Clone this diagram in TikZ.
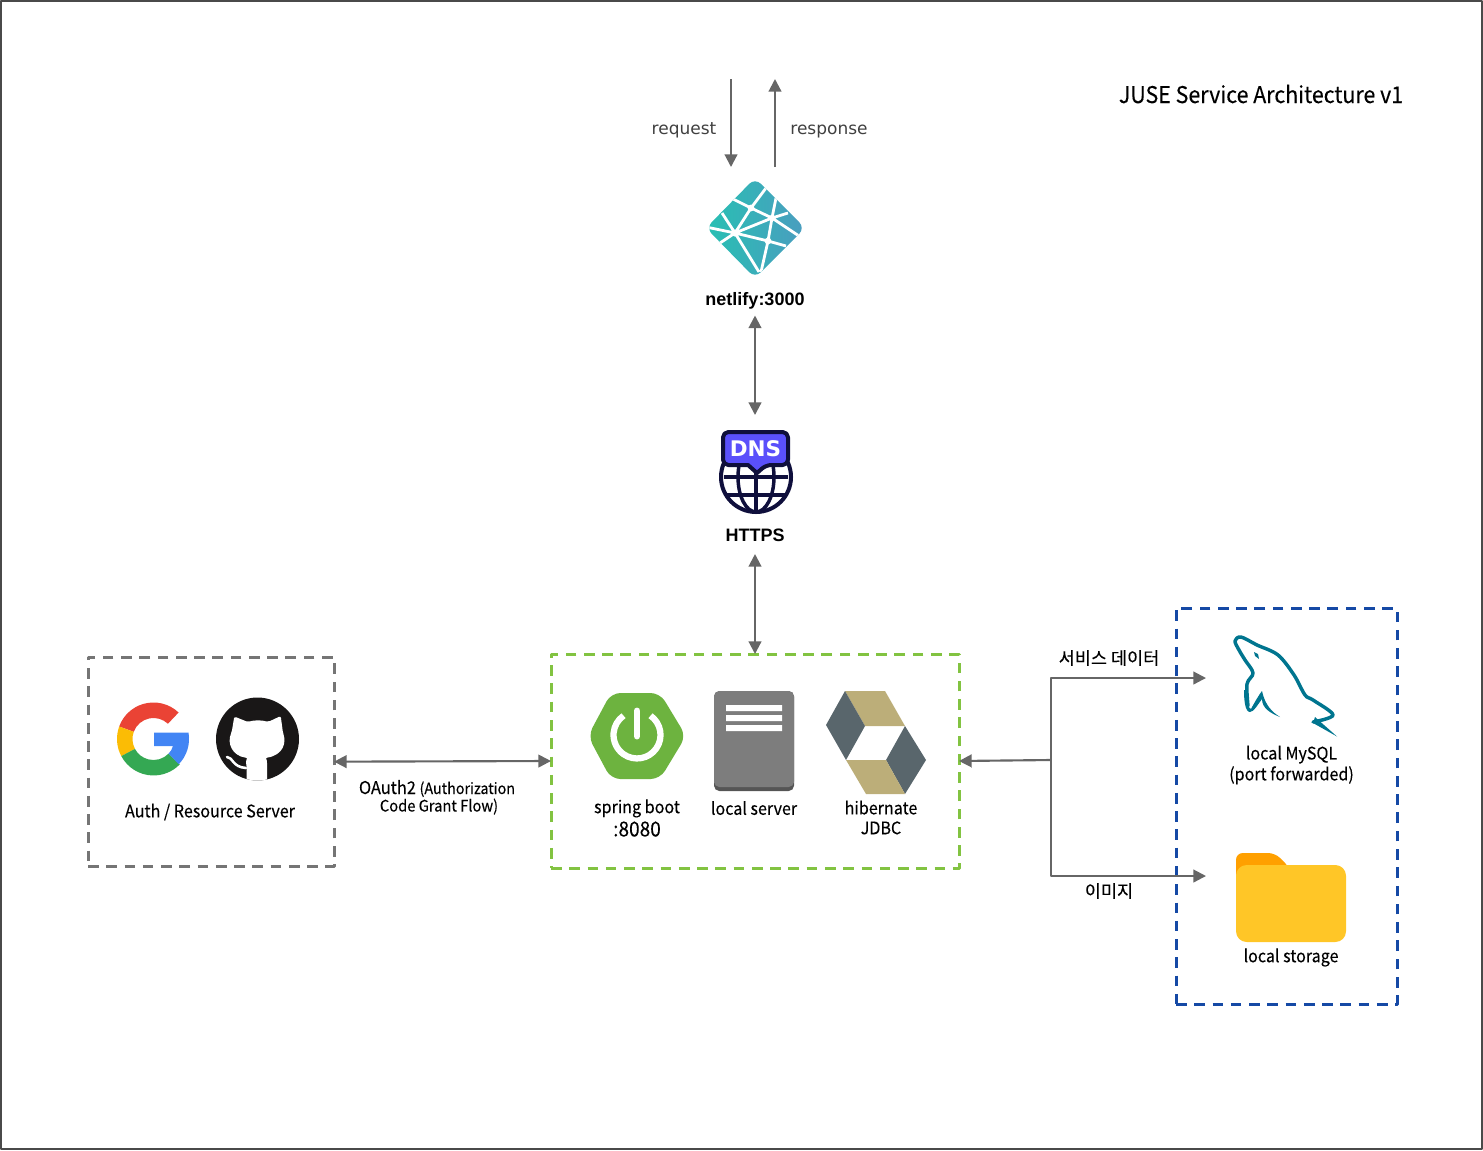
\documentclass[tikz,border=0pt]{standalone}
\usepackage{fontspec}
\setmainfont[FakeStretch=0.93,FakeBold=0.15]{Noto Sans CJK KR}
\newfontfamily\kr[FakeStretch=1.0,FakeBold=0.2]{Noto Sans CJK KR}
\newfontfamily\dv{DejaVu Sans}
\newfontfamily\lib{Liberation Sans}
\usetikzlibrary{arrows.meta}
\newcommand{\fpx}[1]{\pgfmathsetlengthmacro\tmpfs{#1*0.75}\fontsize{\tmpfs}{\tmpfs}\selectfont}
\definecolor{linegray}{HTML}{666666}
\definecolor{framegray}{HTML}{4A4A4A}
\definecolor{boxgray}{HTML}{757575}
\definecolor{boxgreen}{HTML}{82C341}
\definecolor{boxblue}{HTML}{1549A5}
\definecolor{dnsdark}{HTML}{0F0F3C}
\definecolor{dnsblue}{HTML}{5A50FB}
\definecolor{hibtan}{HTML}{BCAE79}
\definecolor{hibgray}{HTML}{59666C}
\definecolor{springgreen}{HTML}{6DB33F}
\definecolor{mysqlteal}{HTML}{00758F}
\definecolor{netleft}{HTML}{26C2B2}
\definecolor{netright}{HTML}{4C9BC0}
\definecolor{gred}{HTML}{EA4335}
\definecolor{gyellow}{HTML}{FBBC05}
\definecolor{ggreen}{HTML}{34A853}
\definecolor{gblue}{HTML}{4285F4}
\definecolor{ghblack}{HTML}{191717}
\definecolor{servergray}{HTML}{7D7D7D}
\definecolor{serverdark}{HTML}{555555}
\definecolor{folderback}{HTML}{FFA000}
\definecolor{folderfront}{HTML}{FFC627}
\tikzset{
  conn/.style={draw=linegray,line width=1.6pt,-{Triangle[length=9.5pt,width=9.5pt]}},
  bi/.style={draw=linegray,line width=1.6pt,{Triangle[length=9.5pt,width=9.5pt]}-{Triangle[length=9.5pt,width=9.5pt]}},
  dbox/.style={line width=2.25pt,dash pattern=on 8pt off 5.7pt,inner sep=0pt,outer sep=0pt,anchor=north west},
  ghost/.style={inner sep=0pt,outer sep=0pt,draw=none},
  lbl/.style={align=center,inner sep=0pt,text=black,font=\fpx{17.3}},
}
\begin{document}
\begin{tikzpicture}[x=0.75pt,y=-0.75pt,line join=round]
\useasboundingbox (0,0) rectangle (1483,1150);
\draw[framegray,line width=1.5pt] (1,1) rectangle (1482,1149);

% dashed boxes
\node[dbox,draw=boxgray,minimum width=184.5pt,minimum height=157pt] (authbox) at (88,657) {};
\node[dbox,draw=boxgreen,minimum width=306pt,minimum height=160.5pt] (springbox) at (551,654) {};
\node[dbox,draw=boxblue,minimum width=165.75pt,minimum height=297pt] (databox) at (1176,608) {};

% title
\node[lbl,font=\fpx{23}] (title) at (1261,94) {JUSE Service Architecture v1};

% netlify icon
\begin{scope}
\clip[rounded corners=6pt] (755,178) -- (805,228) -- (755,278) -- (706,228) -- cycle;
\shade[left color=netleft,right color=netright] (700,175) rectangle (810,280);
\draw[white,line width=2.1pt]
  (735,233) -- (751,208) -- (772,218) -- (768,241) -- (735,233)
  (735,233) -- (772,218)
  (735,233) -- (706,227) (735,233) -- (722,213) (735,233) -- (720,243)
  (735,233) -- (759,272)
  (751,208) -- (733,199) (751,208) -- (766,188)
  (772,218) -- (776,198) (772,218) -- (788,213) (772,218) -- (805,240)
  (768,241) -- (786,246) (768,241) -- (761,272);
\fill[white] (735,233) circle (3.6) (751,208) circle (3.4) (772,218) circle (3.2) (768,241) circle (3.4);
\end{scope}
\node[ghost,minimum width=100pt,minimum height=101.25pt] (netlify) at (755,248) {};
\node[lbl,font=\lib\bfseries\fpx{18},anchor=base] (netlifylabel) at (755,305) {netlify:3000};

% request / response
\coordinate (reqtop) at (731,79);
\coordinate (reqbot) at (731,167);
\coordinate (resbot) at (775,167);
\coordinate (restop) at (775,79);
\draw[conn] (reqtop) -- (reqbot);
\draw[conn] (resbot) -- (restop);
\node[lbl,font=\dv\fpx{17},text=black!75,anchor=base] (reqlabel) at (684,134) {request};
\node[lbl,font=\dv\fpx{17},text=black!75,anchor=base] (reslabel) at (829,134) {response};

% DNS icon
\draw[dnsdark,line width=3pt] (756,477) circle (35);
\draw[dnsdark,line width=2.6pt] (756,442) -- (756,512);
\draw[dnsdark,line width=2.6pt] (756,477) ellipse (18 and 35);
\draw[dnsdark,line width=2.6pt] (724,477) -- (788,477) (727,495) -- (785,495);
\path[fill=dnsblue,draw=dnsdark,line width=3pt,rounded corners=4pt]
  (723,432) -- (788,432) -- (788,465) -- (766,465) [sharp corners] -- (757,473) -- (748,465) [rounded corners=4pt] -- (723,465) -- cycle;
\node[inner sep=0pt,text=white,font=\dv\bfseries\fpx{21.5}] (dnstext) at (755.5,449) {DNS};
\node[ghost,minimum width=75pt,minimum height=104.25pt] (dns) at (755,484.5) {};
\node[lbl,font=\lib\bfseries\fpx{18},anchor=base] (dnslabel) at (755,541) {HTTPS};

\draw[bi] (netlify.south) -- (dns.north);
\draw[bi] (dns.south) -- (springbox.north);

% Google
\fill[gred] (178.6,712.5) arc (-46.5:-160:36.5) -- ++(20:15.5) arc (-160:-46.5:21) -- cycle;
\fill[gyellow] (119.2,726.5) arc (-160:-208:36.5) -- ++(-28:15.5) arc (-208:-160:21) -- cycle;
\fill[ggreen] (121.3,756.1) arc (-208:-316:36.5) -- (168.6,753.6) arc (-316:-208:21) -- cycle;
\fill[gblue] (154,732.5) -- (188.5,732.5) arc (-10:44:36.5) -- (168.6,753.6) .. controls (170.5,752) and (172,749) .. (173,746) -- (154,746) -- cycle;

% GitHub
\fill[ghblack] (257.5,739) circle (41.5);
\begin{scope}
\clip (257.5,739) circle (41.5);
\fill[white,rounded corners=1.5pt] (234.3,716.5) -- (248,722) .. controls (254,720) and (262,720) .. (268,722) -- (280.7,716) -- (283,733)
  .. controls (286,742) and (284,755) .. (265,758) .. controls (267,760) and (267,762) .. (267,765) -- (267,785) -- (246.7,785) -- (246.7,766)
  .. controls (246,763) and (246,760) .. (248,758) .. controls (232,756) and (227,743) .. (231.7,732) -- cycle;
\draw[white,line width=1.9pt,line cap=round] (227,757) .. controls (233,757) and (232,767) .. (246,768);
\end{scope}
\node[lbl] (authlabel) at (210,812) {Auth / Resource Server};

% Spring
\fill[springgreen,rounded corners=7pt] (588,736) -- (611,693) -- (660,693) -- (686,736) -- (660,779) -- (611,779) -- cycle;
\draw[white,line width=4.7pt,line cap=butt] (650.5,715.7) arc (-55:235:23.5);
\draw[white,line width=5.2pt,line cap=round] (637,711) -- (637,736);
\node[lbl] (springlabel) at (637,818) {spring boot\\[2pt]{\fpx{20.5}:8080}};

% server
\fill[serverdark,rounded corners=4pt] (714,691) rectangle (794,791);
\fill[servergray,rounded corners=4pt] (714,691) rectangle (794,787);
\fill[servergray] (714,700) rectangle (794,783);
\fill[white] (726,705) rectangle (782,711) (726,715) rectangle (782,721) (726,725) rectangle (782,731);
\node[lbl] (serverlabel) at (754,808) {local server};

% hibernate
\fill[hibtan] (845,691) -- (885,691) -- (905,726) -- (865,726) -- cycle;
\fill[hibgray] (826,725) -- (845,691) -- (865,726) -- (846,760) -- cycle;
\fill[hibgray] (905,726) -- (926,760) -- (905,794) -- (886,760) -- cycle;
\fill[hibtan] (846,760) -- (886,760) -- (905,794) -- (866,794) -- cycle;
\node[lbl] (hiblabel) at (881,817.5) {hibernate\\[2pt]JDBC};

% OAuth
\draw[bi] (authbox.east) -- (springbox.west);
\node[lbl,font=\fpx{17.6},anchor=base] (oauthtop) at (437,794) {OAuth2 {\fpx{15.4}(Authorization}};
\node[lbl,font=\fpx{15.8},anchor=base] (oauthbot) at (439,811.5) {Code Grant Flow)};

% dolphin
\draw[mysqlteal,line width=2.6pt,line cap=round]
  plot[smooth,tension=0.55] coordinates {
   (1313,722) (1333,715) (1313,700) (1305,695) (1294,675) (1278,655) (1257,645) (1241,637) (1235,641) (1239,650) (1245,660) (1253,673) (1247,684) (1248,706)};
\fill[mysqlteal] (1315,717) -- (1337,736.5) -- (1313,723) -- cycle;
\fill[mysqlteal] (1246,690) .. controls (1246,702) and (1248,708) .. (1251,709) .. controls (1253,705) and (1260,693) .. (1262,691) .. controls (1265,705) and (1272,712) .. (1280,717) .. controls (1270,713) and (1262,708) .. (1262,699) .. controls (1258,704) and (1254,712) .. (1250,712) .. controls (1245,712) and (1244,700) .. (1244,690) -- cycle;
\fill[mysqlteal] (1254,652) -- (1258,654) -- (1259,659) -- (1255,656) -- cycle;
\node[lbl] (mysqllabel) at (1291.5,765) {local MySQL\\[1pt](port forwarded)};
\node[ghost,minimum width=1pt,minimum height=1pt,anchor=west] (mysqlnode) at (1206,678) {};

% folder
\fill[folderback,rounded corners=5pt] (1236,880) -- (1236,853) -- (1275,853) -- (1290,868) -- (1290,880) -- cycle;
\fill[folderfront,rounded corners=8pt] (1236,865) rectangle (1346,942);
\node[lbl] (storagelabel) at (1291,957.5) {local storage};
\node[ghost,minimum width=1pt,minimum height=1pt,anchor=west] (storagenode) at (1206,876) {};

% data connectors
\coordinate (junction) at (1051,760);
\draw[conn] (junction) -- (springbox.east);
\draw[conn] (junction) |- (mysqlnode.west);
\draw[conn] (junction) |- (storagenode.west);
\node[lbl,font=\kr\fpx{17.5}] (svc) at (1109,658) {서비스 데이터};
\node[lbl,font=\kr\fpx{17.5}] (img) at (1109,891) {이미지};
\end{tikzpicture}
\end{document}
